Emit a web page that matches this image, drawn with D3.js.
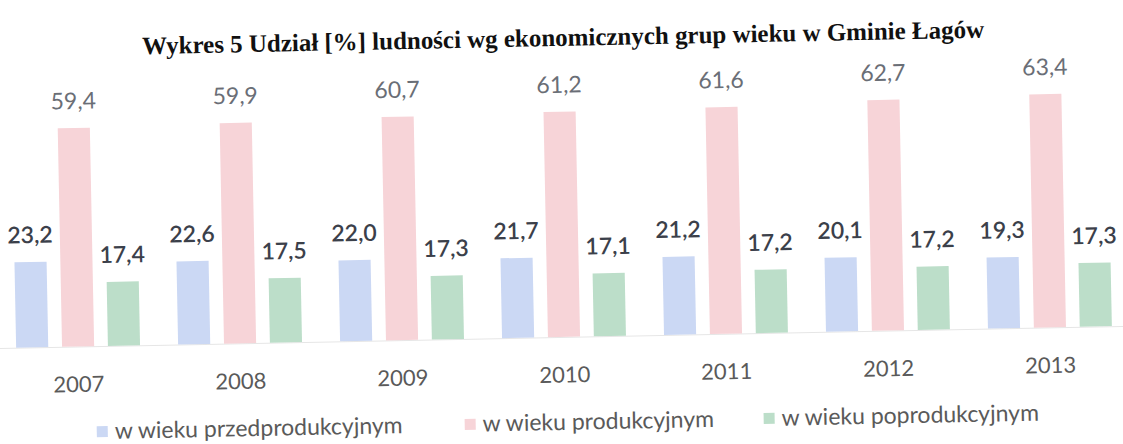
<!DOCTYPE html>
<html>
<head>
<meta charset="utf-8">
<script src="https://cdn.jsdelivr.net/npm/d3@7"></script>
<style>
  html, body { margin: 0; padding: 0; background: #ffffff; }
  svg { display: block; }
</style>
</head>
<body>
<svg id="chart" width="1123" height="444"></svg>
<script>
// Years on the category axis
const years = ["2007", "2008", "2009", "2010", "2011", "2012", "2013"];
// Series names (legend text)
const seriesNames = ["w wieku przedprodukcyjnym", "w wieku produkcyjnym", "w wieku poprodukcyjnym"];
// Share of population [%] per year
const przedprodukcyjny = [23.2, 22.6, 22.0, 21.7, 21.2, 20.1, 19.3];
const produkcyjny      = [59.4, 59.9, 60.7, 61.2, 61.6, 62.7, 63.4];
const poprodukcyjny    = [17.4, 17.5, 17.3, 17.1, 17.2, 17.2, 17.3];
const titleText = "Wykres 5 Udział [%] ludności wg ekonomicznych grup wieku w Gminie Łagów";

const seriesValues = [przedprodukcyjny, produkcyjny, poprodukcyjny];
const colors = ["#cbd8f4", "#f7d4d8", "#bcdec9"];
const labelColors = ["#3b404a", "#6a6e76", "#3b404a"];
const labelWeights = [600, 400, 600];

const svg = d3.select("#chart");
const baseY = 337;
// The whole page is printed slightly tilted
const g = svg.append("g").attr("transform", `rotate(-1.13, 560, ${baseY})`);

const x0 = d3.scaleBand().domain(years)
  .range([-3, 1131]).paddingInner(0.235).paddingOuter(0.1175);
const x1 = d3.scaleBand().domain(d3.range(3))
  .range([0, x0.bandwidth()]).paddingInner(0.3).paddingOuter(0);
const y = d3.scaleLinear().domain([0, 70]).range([baseY, baseY - 257.6]);

const font = "Lato, 'Open Sans', sans-serif";

// Title (condensed serif)
g.append("text")
  .attr("x", 148).attr("y", 46)
  .attr("textLength", 842)
  .attr("lengthAdjust", "spacingAndGlyphs")
  .style("font-family", "'Liberation Serif', 'Times New Roman', serif")
  .style("font-weight", "bold")
  .style("font-size", "25px")
  .attr("fill", "#111")
  .text(titleText);

// Baseline
g.append("line")
  .attr("x1", -20).attr("x2", 1150)
  .attr("y1", baseY + 0.5).attr("y2", baseY + 0.5)
  .attr("stroke", "#e6e6e6").attr("stroke-width", 1);

// Bars
const groups = g.selectAll("g.year").data(years).join("g")
  .attr("class", "year")
  .attr("transform", d => `translate(${x0(d)},0)`);

groups.selectAll("rect")
  .data((d, i) => seriesValues.map((s, k) => ({ k, v: s[i] })))
  .join("rect")
  .attr("x", d => x1(d.k))
  .attr("width", x1.bandwidth())
  .attr("y", d => y(d.v))
  .attr("height", d => y(0) - y(d.v))
  .attr("fill", d => colors[d.k]);

// Value labels
groups.selectAll("text.val")
  .data((d, i) => seriesValues.map((s, k) => ({ k, v: s[i] })))
  .join("text")
  .attr("class", "val")
  .attr("x", d => x1(d.k) + x1.bandwidth() / 2)
  .attr("y", d => y(d.v) - 19)
  .attr("text-anchor", "middle")
  .style("font-family", font)
  .style("font-size", "23px")
  .style("font-weight", d => labelWeights[d.k])
  .attr("fill", d => labelColors[d.k])
  .text(d => d.v.toFixed(1).replace(".", ","));

// Category axis
const xAxis = g.append("g")
  .attr("transform", `translate(0,${baseY})`)
  .call(d3.axisBottom(x0).tickSize(0).tickPadding(30));
xAxis.select(".domain").remove();
xAxis.selectAll("text")
  .style("font-family", font)
  .style("font-size", "22px")
  .attr("fill", "#5a5a5a");

// Legend
const legendX = [95, 463, 762];
const legend = g.append("g").attr("transform", `translate(0,${baseY + 93})`);
const items = legend.selectAll("g").data(seriesNames).join("g")
  .attr("transform", (d, i) => `translate(${legendX[i]},0)`);
items.append("rect")
  .attr("x", 0).attr("y", -13).attr("width", 11).attr("height", 11)
  .attr("fill", (d, i) => colors[i]);
items.append("text")
  .attr("x", 18).attr("y", 0)
  .style("font-family", font)
  .style("font-size", "23px")
  .attr("fill", "#5a5a5a")
  .text(d => d);
</script>
</body>
</html>
